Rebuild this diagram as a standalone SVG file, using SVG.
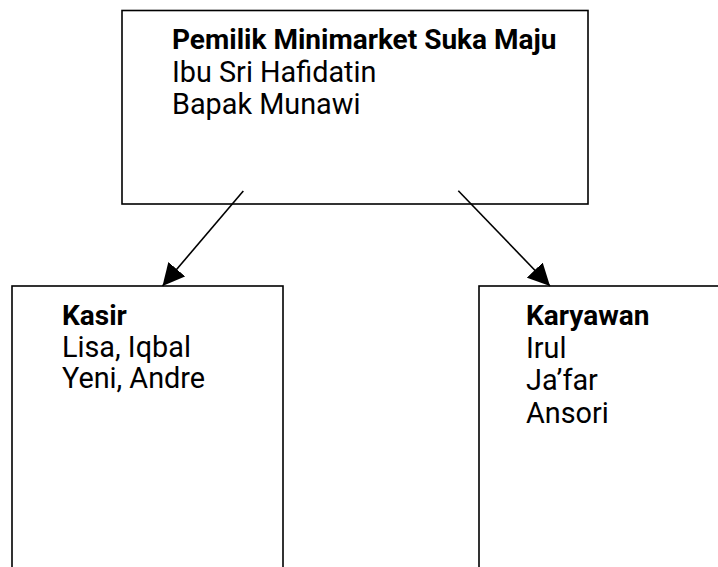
<svg xmlns="http://www.w3.org/2000/svg" width="718" height="567" viewBox="0 0 718 567">
<style>
.box{fill:#fff;stroke:#000;stroke-width:1.6}
.t{font-family:Roboto,"Liberation Sans",sans-serif;font-size:28.8px;fill:#000}
.b{font-weight:bold;font-size:28px}
.c{stroke:#000;stroke-width:1.6;fill:none}
</style>
<defs>
<marker id="ah" viewBox="0 0 22 22" refX="22" refY="11" markerWidth="22" markerHeight="22" markerUnits="userSpaceOnUse" orient="auto">
<path d="M0,0 L22,11 L0,22 z" fill="#000"/>
</marker>
</defs>
<rect width="718" height="567" fill="#fff"/>
<g id="owner">
<rect class="box" x="122" y="10.5" width="466" height="193.5"/>
<text class="t b" x="172" y="48.5">Pemilik Minimarket Suka Maju</text>
<text class="t" x="172" y="81.5">Ibu Sri Hafidatin</text>
<text class="t" x="172" y="113.5">Bapak Munawi</text>
</g>
<g id="kasir">
<rect class="box" x="12" y="286" width="271" height="300"/>
<text class="t b" x="62" y="325">Kasir</text>
<text class="t" x="62" y="357">Lisa, Iqbal</text>
<text class="t" x="62" y="388">Yeni, Andre</text>
</g>
<g id="karyawan">
<rect class="box" x="479" y="286" width="300" height="300"/>
<text class="t b" x="526" y="325">Karyawan</text>
<text class="t" x="526" y="358">Irul</text>
<text class="t" x="526" y="390">Ja’far</text>
<text class="t" x="526" y="423">Ansori</text>
</g>
<g id="connectors">
<line class="c" x1="243.3" y1="191" x2="162.5" y2="286" marker-end="url(#ah)"/>
<line class="c" x1="458.3" y1="190.7" x2="550" y2="286" marker-end="url(#ah)"/>
</g>
</svg>
